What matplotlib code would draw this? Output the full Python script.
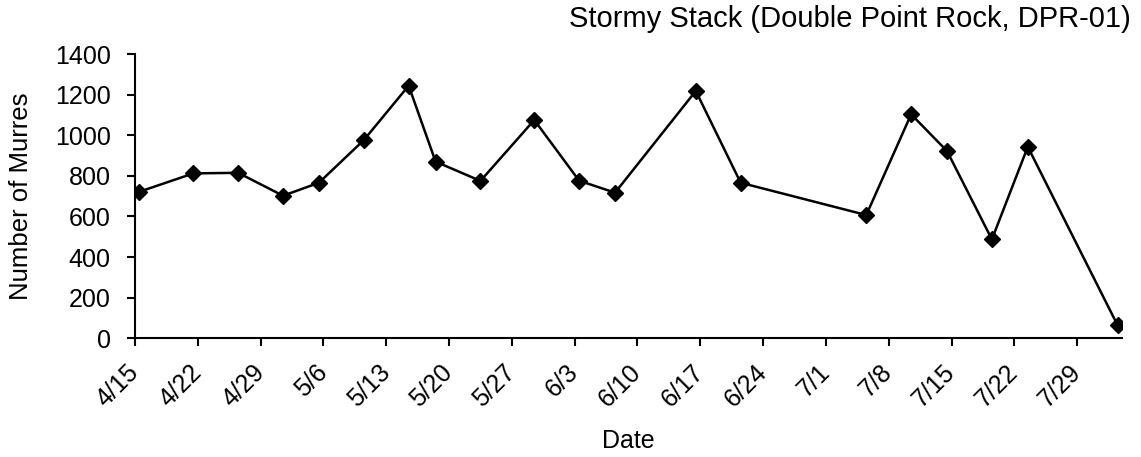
import matplotlib
matplotlib.use("Agg")
import matplotlib.pyplot as plt
import pandas as pd

plt.rcParams['font.family'] = ['Liberation Sans', 'DejaVu Sans']

# survey dates and murre counts
dates = ["4/15", "4/21", "4/26", "5/1", "5/5", "5/10", "5/15", "5/18", "5/23", "5/29",
         "6/3", "6/7", "6/16", "6/21", "7/5", "7/10", "7/14", "7/19", "7/23", "8/2"]
counts = [722, 812, 815, 702, 766, 976, 1244, 870, 775, 1075,
          776, 717, 1218, 766, 607, 1103, 922, 487, 943, 65]

yr = "2007/"
x = pd.to_datetime([yr + d for d in dates]) + pd.Timedelta(hours=12)
ticks = pd.date_range(yr + "4/15", periods=16, freq="7D")
tick_labels = [f"{t.month}/{t.day}" for t in ticks]

fig = plt.figure(figsize=(11.41, 4.57), dpi=100)
ax = fig.add_axes([135/1141, 1 - 338.3/457, (1122 - 135)/1141, (338.3 - 54)/457])

ax.plot(x, counts, color="black", lw=1.8, marker="D", ms=8.5)

ax.set_xlim(pd.Timestamp(yr + "4/15"), pd.Timestamp(yr + "8/3"))
ax.set_ylim(0, 1400)
ax.set_yticks(range(0, 1401, 200))
ax.set_xticks(ticks)
ax.set_xticklabels(tick_labels, rotation=45, ha="right", va="center", rotation_mode="anchor")
ax.tick_params(labelsize=18, width=1.5, direction="out", colors="black")
ax.tick_params(axis="y", length=5.5, pad=12)
ax.tick_params(axis="x", length=6, pad=16)

for s in ["top", "right"]:
    ax.spines[s].set_visible(False)
for s in ["left", "bottom"]:
    ax.spines[s].set_linewidth(1.5)

ax.set_ylabel("Number of Murres", fontsize=18.5, va="center")
ax.yaxis.set_label_coords(-0.1155, 0.5)
ax.set_xlabel("Date", fontsize=18, va="center")
ax.xaxis.set_label_coords(0.5, (338.3 - 441) / 284.3)
fig.text(1131/1141, 1 - 19/457, "Stormy Stack (Double Point Rock, DPR-01)",
         ha="right", va="center", fontsize=21)

fig.savefig("out.png", dpi=100)
